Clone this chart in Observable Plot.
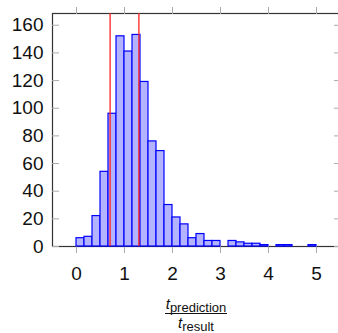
<!DOCTYPE html>
<html>
<head>
<meta charset="utf-8">
<script src="https://cdn.jsdelivr.net/npm/d3@7"></script>
<script src="https://cdn.jsdelivr.net/npm/@observablehq/plot@0.6"></script>
<style>
  html, body { margin: 0; padding: 0; background: #fff; overflow: hidden; }
</style>
</head>
<body>
<div id="chart"></div>
<script>
// Histogram bins (bin width 1/6), counts
const binStarts = [0,1,2,3,4,5,6,7,8,9,10,11,12,13,14,15,16,17,18,19,20,21,22,23,24,25,26,27,28,29].map(i => i / 6);
const counts = [6,7,22,54,96,152,141,153,119,76,69,30,21,16,6,9,4,4,0,4,3,2,2,1,0,1,1,0,0,1];
const binWidth = 1 / 6;
const markers = [0.7, 1.3];
const xTicks = [0, 1, 2, 3, 4, 5];
const yTicks = [0, 20, 40, 60, 80, 100, 120, 140, 160];

const bins = binStarts.map((x, i) => ({x1: x, x2: x + binWidth, y: counts[i]})).filter(d => d.y > 0);

const font = "'Liberation Sans', Arial, Helvetica, sans-serif";
const chart = Plot.plot({
  width: 338,
  height: 333,
  marginLeft: 52,
  marginRight: 0,
  marginTop: 13,
  marginBottom: 87,
  style: {fontFamily: font, fontSize: "19px", color: "#111", background: "#fff", overflow: "hidden"},
  x: {domain: [-0.5, 5.4583]},
  y: {domain: [0, 168.5]},
  marks: [
    Plot.frame({stroke: "#333", strokeWidth: 1.2, insetRight: -4}),
    Plot.axisY(yTicks, {anchor: "left", tickSize: -7, tickPadding: 16, stroke: "#aaa", fill: "#111", label: null, fontSize: 19}),
    Plot.axisY(yTicks, {anchor: "right", tickSize: -5, text: null, stroke: "#aaa", label: null}),
    Plot.axisX(xTicks, {anchor: "top", tickSize: 7, text: null, stroke: "#aaa", label: null}),
    Plot.axisX(xTicks, {anchor: "bottom", tickSize: 7, tickPadding: 13, stroke: "#aaa", fill: "#111", label: null, fontSize: 19}),
    Plot.rectY(bins, {x1: "x1", x2: "x2", y: "y", fill: "#b3b3ff", stroke: "#0000ff", strokeWidth: 1.2}),
    Plot.ruleX(markers, {stroke: "#ff2020", strokeWidth: 1.3})
  ]
});

// x-axis label as a fraction: t_prediction / t_result
const svg = d3.select(chart);
const cx = 196;
const num = svg.append("text").attr("x", cx).attr("y", 309).attr("text-anchor", "middle")
  .attr("font-family", font).attr("fill", "#111");
num.append("tspan").attr("font-style", "italic").attr("font-size", 15).text("t");
num.append("tspan").attr("font-size", 13).attr("dy", 3).text("prediction");
svg.append("line").attr("x1", 165).attr("x2", 227).attr("y1", 313.5).attr("y2", 313.5)
  .attr("stroke", "#111").attr("stroke-width", 1);
const den = svg.append("text").attr("x", cx).attr("y", 328).attr("text-anchor", "middle")
  .attr("font-family", font).attr("fill", "#111");
den.append("tspan").attr("font-style", "italic").attr("font-size", 15).text("t");
den.append("tspan").attr("font-size", 13).attr("dy", 3).text("result");

document.getElementById("chart").appendChild(chart);
</script>
</body>
</html>
